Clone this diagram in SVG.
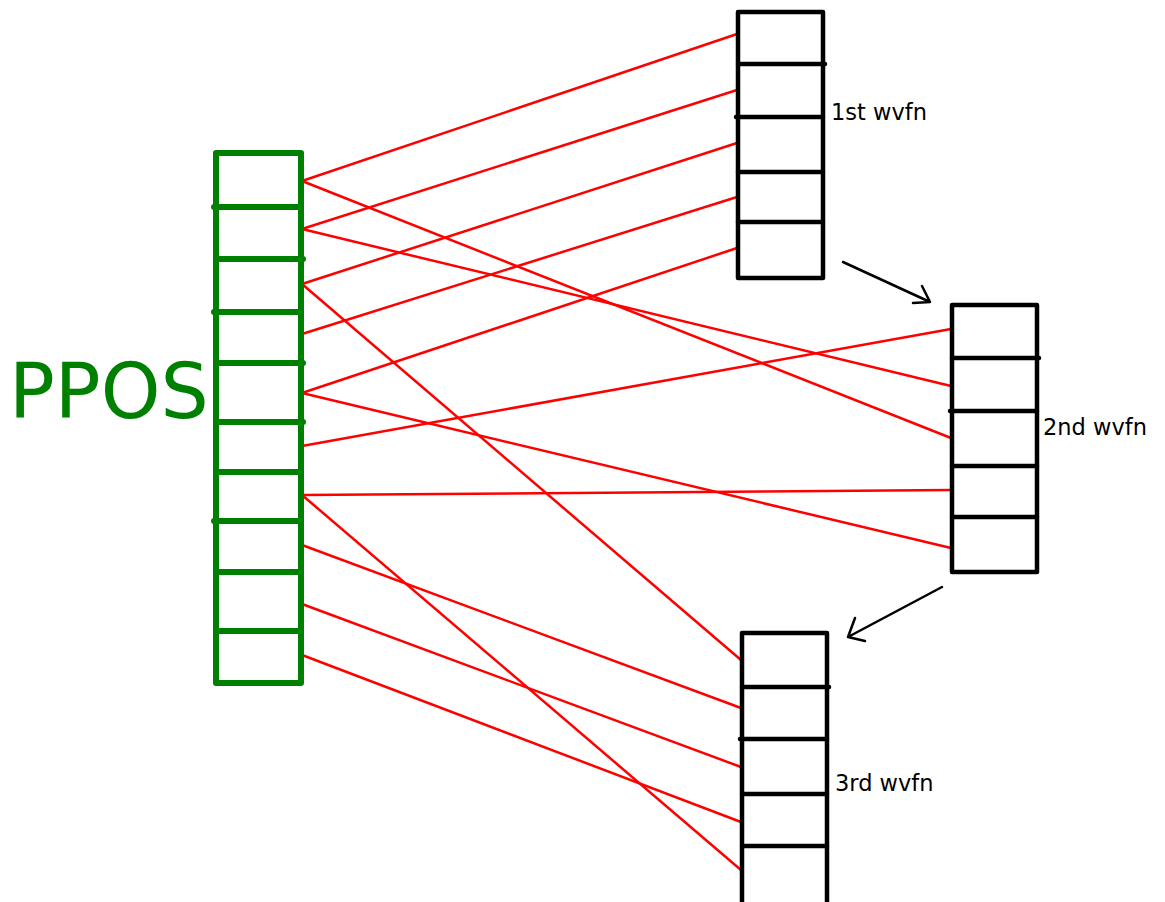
<svg xmlns="http://www.w3.org/2000/svg" width="1165" height="902" viewBox="0 0 1165 902">
<style>
.g{fill:none;stroke:#008000;stroke-width:6;stroke-linecap:round;stroke-linejoin:round}
.b{fill:none;stroke:#000;stroke-width:4.5;stroke-linecap:round;stroke-linejoin:round}
.r{stroke:#ff0000;stroke-width:2.5;fill:none}
.a{stroke:#000;stroke-width:2.5;fill:none;stroke-linecap:round;stroke-linejoin:round}
.t{font-family:"DejaVu Sans",sans-serif;font-size:22.5px;fill:#000}
</style>
<rect width="1165" height="902" fill="#fff"/>
<g id="connectors">
<line class="r" x1="302" y1="181" x2="737" y2="34"/>
<line class="r" x1="302" y1="229" x2="737" y2="90"/>
<line class="r" x1="302" y1="284" x2="737" y2="143"/>
<line class="r" x1="302" y1="334" x2="737" y2="197"/>
<line class="r" x1="302" y1="393" x2="737" y2="248"/>
<line class="r" x1="302" y1="181" x2="951" y2="438"/>
<line class="r" x1="302" y1="229" x2="951" y2="386"/>
<line class="r" x1="302" y1="446" x2="951" y2="329"/>
<line class="r" x1="302" y1="495" x2="951" y2="490"/>
<line class="r" x1="302" y1="393" x2="951" y2="548"/>
<line class="r" x1="302" y1="284" x2="741" y2="660"/>
<line class="r" x1="302" y1="545" x2="741" y2="708"/>
<line class="r" x1="302" y1="604" x2="741" y2="767"/>
<line class="r" x1="302" y1="655" x2="741" y2="822"/>
<line class="r" x1="302" y1="495" x2="741" y2="870"/>
<path class="a" d="M843 262 L930 302 M922 286 L930 302 L913 303"/>
<path class="a" d="M942 587 L848 637 M855 618 L848 637 L865 641"/>
</g>
<g id="ppos">
<rect class="g" x="216" y="153" width="85" height="530"/>
<path class="g" d="M214 207H301M216 259H303M214 312H301M216 363H303M216 422H303M216 472H301M214 521H301M216 572H301M216 631H301"/>
<text x="9" y="418" font-family="DejaVu Sans,sans-serif" font-size="76" fill="#008000">PPOS</text>
</g>
<g id="wvfn1">
<rect class="b" x="738" y="12" width="85" height="266"/>
<path class="b" d="M738 64H825M736 117H823M738 172H823M738 222H823"/>
<text class="t" x="831" y="120">1st wvfn</text>
</g>
<g id="wvfn2">
<rect class="b" x="952" y="305" width="85" height="267"/>
<path class="b" d="M952 358H1039M950 411H1037M952 466H1037M952 517H1037"/>
<text class="t" x="1043" y="435">2nd wvfn</text>
</g>
<g id="wvfn3">
<rect class="b" x="742" y="633" width="85" height="275"/>
<path class="b" d="M742 687H829M740 739H827M742 794H827M742 846H827"/>
<text class="t" x="835" y="791">3rd wvfn</text>
</g>
</svg>
